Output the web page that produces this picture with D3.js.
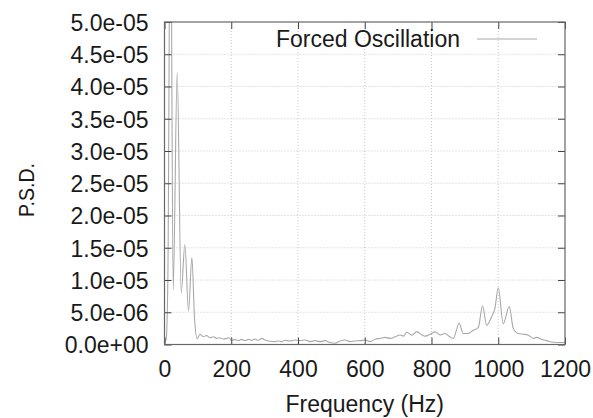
<!DOCTYPE html>
<html><head><meta charset="utf-8">
<script src="https://cdn.jsdelivr.net/npm/d3@7"></script>
<style>
body{margin:0;background:#fff;}
text{font-family:"Liberation Sans",Arial,sans-serif;fill:#1a1a1a;}
</style></head>
<body><svg id="c" width="593" height="418"></svg>
<script>
const freqHz = [0,5,10,18,26,38,50,61,72,82,90,98,106,116,126,136,146,156,166,176,186,194,201,211,221,231,241,251,261,271,281,291,301,316,331,341,351,361,376,391,406,421,436,451,466,481,496,511,526,541,556,571,586,601,616,631,646,661,676,691,706,716,726,741,756,771,781,796,811,826,840,855,865,883,895,910,925,940,953,965,980,990,1000,1015,1033,1045,1060,1075,1090,1105,1115,1130,1145,1165,1185,1200];
const psdE6 = [0.3,0.8,10,75,8.5,42.2,8.0,15.5,5.2,13.5,4,0.9,1.6,1.2,1.4,1.05,1.2,0.95,1.05,0.85,0.95,1.05,0.6,0.8,0.6,0.8,0.6,0.8,0.65,0.85,0.65,0.95,0.7,0.5,0.45,0.55,0.45,0.65,0.55,0.7,0.6,0.7,0.45,0.6,0.45,0.6,0.3,0.2,0.55,0.7,0.45,0.55,0.6,0.7,0.45,0.8,0.95,1.1,0.95,1.2,1.47,1.3,1.9,1.45,2.0,1.5,1.3,1.6,1.95,1.5,1.7,1.2,0.95,3.3,1.7,1.7,2.2,2.6,6.0,3.0,4.3,5.6,8.8,3.2,5.9,2.5,1.7,1.6,1.45,0.95,1.1,0.8,0.6,0.35,0.3,0.3];
const xTicks = [0,200,400,600,800,1000,1200];
const yTicks = [0,5e-6,1e-5,1.5e-5,2e-5,2.5e-5,3e-5,3.5e-5,4e-5,4.5e-5,5e-5];
const yLabels = ["0.0e+00","5.0e-06","1.0e-05","1.5e-05","2.0e-05","2.5e-05","3.0e-05","3.5e-05","4.0e-05","4.5e-05","5.0e-05"];
const seriesName = "Forced Oscillation";

(function(){
const L=164.5, R=565, T=22, B=344.5;
const svg = d3.select("#c");
const x = d3.scaleLinear().domain([0,1200]).range([L,R]);
const y = d3.scaleLinear().domain([0,5e-5]).range([B,T]);
const FS = 23;

// grid
const g = svg.append("g");
g.selectAll(".gx").data(xTicks.slice(1,-1)).enter().append("line")
 .attr("x1",d=>x(d)).attr("x2",d=>x(d)).attr("y1",T).attr("y2",B)
 .attr("stroke","#c8c8c8").attr("stroke-width",1).attr("stroke-dasharray","1,2");
g.selectAll(".gy").data(yTicks.slice(1,-1)).enter().append("line")
 .attr("x1",L).attr("x2",R).attr("y1",d=>y(d)).attr("y2",d=>y(d))
 .attr("stroke","#c8c8c8").attr("stroke-width",1).attr("stroke-dasharray","1,2");

// curve
svg.append("clipPath").attr("id","cp").append("rect").attr("x",L).attr("y",T).attr("width",R-L).attr("height",B-T);
const pts = freqHz.map((f,i)=>[f, psdE6[i]*1e-6]);
const line = d3.line().x(d=>x(d[0])).y(d=>y(d[1])).curve(d3.curveMonotoneX);
svg.append("path").attr("d",line(pts)).attr("clip-path","url(#cp)")
 .attr("fill","none").attr("stroke","#a8a8a8").attr("stroke-width",1.1);

// axes (ticks inside, mirrored)
const tl = 7;
const axB = d3.axisBottom(x).tickValues(xTicks).tickSizeInner(-tl).tickSizeOuter(0).tickFormat(d=>d);
const axT = d3.axisTop(x).tickValues(xTicks).tickSizeInner(-tl).tickSizeOuter(0).tickFormat("");
const axL = d3.axisLeft(y).tickValues(yTicks).tickSizeInner(-tl).tickSizeOuter(0).tickFormat((d,i)=>yLabels[i]);
const axR = d3.axisRight(y).tickValues(yTicks).tickSizeInner(-tl).tickSizeOuter(0).tickFormat("");
function style(sel){
  sel.select(".domain").remove();
  sel.selectAll(".tick line").attr("stroke","#444").attr("stroke-width",1);
  sel.selectAll("text").attr("font-size",FS).attr("fill","#1a1a1a").attr("font-family","Liberation Sans, Arial, sans-serif");
}
const gb = svg.append("g").attr("transform",`translate(0,${B})`).call(axB); style(gb);
gb.selectAll("text").attr("dy",0).attr("y",32);
const gt = svg.append("g").attr("transform",`translate(0,${T})`).call(axT); style(gt);
const gl = svg.append("g").attr("transform",`translate(${L},0)`).call(axL); style(gl);
gl.selectAll("text").attr("x",-16).attr("dy","0.36em");
const gr = svg.append("g").attr("transform",`translate(${R},0)`).call(axR); style(gr);

// frame
svg.append("rect").attr("x",L).attr("y",T).attr("width",R-L).attr("height",B-T)
 .attr("fill","none").attr("stroke","#666").attr("stroke-width",1.2);

// titles
svg.append("text").attr("x",(L+R)/2).attr("y",412).attr("text-anchor","middle").attr("font-size",FS).text("Frequency (Hz)");
svg.append("text").attr("transform","translate(34,190) rotate(-90)").attr("text-anchor","middle").attr("font-size",22)
 .attr("textLength",54).attr("lengthAdjust","spacingAndGlyphs").text("P.S.D.");

// legend
svg.append("text").attr("x",460).attr("y",47).attr("text-anchor","end").attr("font-size",FS).text(seriesName);
svg.append("line").attr("x1",477).attr("x2",537).attr("y1",39).attr("y2",39).attr("stroke","#a8a8a8").attr("stroke-width",1.1);
})();
</script></body></html>
